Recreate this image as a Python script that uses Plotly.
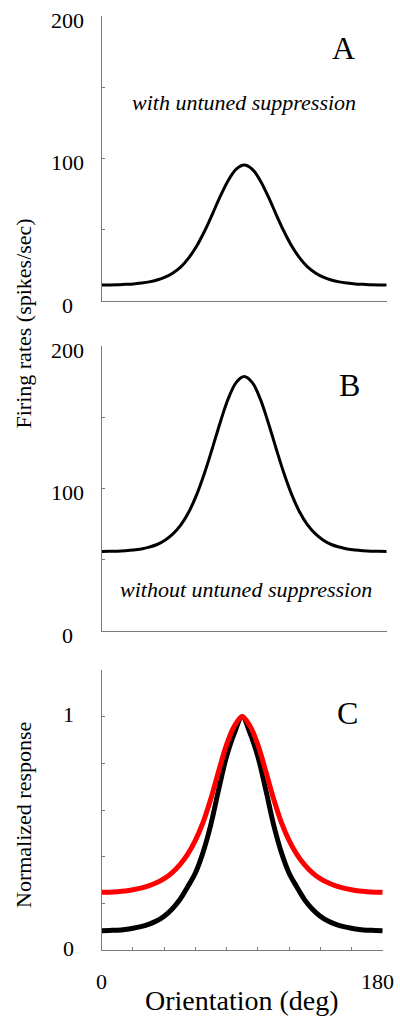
import plotly.graph_objects as go

# Orientation samples (deg)
orientation = [0, 5, 10, 15, 20, 25, 30, 35, 40, 45, 50, 55, 60, 65, 70, 75, 80, 85, 90,
               95, 100, 105, 110, 115, 120, 125, 130, 135, 140, 145, 150, 155, 160, 165, 170, 175, 180]

# Panel A: firing rate with untuned suppression (spikes/sec)
rate_with_suppression = [11.3, 11.3, 11.4, 11.7, 12.0, 12.6, 13.4, 14.7, 16.7, 19.7, 24.0, 30.3, 38.6,
                         49.1, 61.2, 73.7, 84.8, 92.6, 95.4, 92.6, 84.8, 73.7, 61.2, 49.1, 38.6, 30.3,
                         24.0, 19.7, 16.7, 14.7, 13.4, 12.6, 12.0, 11.7, 11.4, 11.3, 11.3]

# Panel B: firing rate without untuned suppression (spikes/sec)
rate_without_suppression = [55.8, 55.9, 56.0, 56.3, 56.8, 57.6, 58.9, 60.7, 63.7, 68.1, 74.4, 83.5, 95.7,
                            111.0, 128.6, 146.9, 163.2, 174.5, 178.6, 174.5, 163.2, 146.9, 128.6, 111.0,
                            95.7, 83.5, 74.4, 68.1, 63.7, 60.7, 58.9, 57.6, 56.8, 56.3, 56.0, 55.9, 55.8]

# Panel C: normalized responses
norm_black = [0.083, 0.084, 0.085, 0.088, 0.093, 0.100, 0.110, 0.124, 0.145, 0.175, 0.215, 0.27, 0.33,
              0.42, 0.54, 0.69, 0.83, 0.93, 1.0, 0.93, 0.83, 0.69, 0.54, 0.42, 0.33, 0.27, 0.215,
              0.175, 0.145, 0.124, 0.110, 0.100, 0.093, 0.088, 0.085, 0.084, 0.083]
norm_red = [0.247, 0.248, 0.25, 0.253, 0.258, 0.265, 0.275, 0.288, 0.306, 0.331, 0.365, 0.41, 0.47,
            0.548, 0.65, 0.768, 0.88, 0.96, 1.0, 0.96, 0.88, 0.768, 0.65, 0.548, 0.47, 0.41, 0.365,
            0.331, 0.306, 0.288, 0.275, 0.265, 0.258, 0.253, 0.25, 0.248, 0.247]

# Tick labels
rate_ticks = [0, 100, 200]
norm_ticks = [0, 1]
orient_ticks = [0, 180]

W, H = 400, 1018
FONT = "Liberation Serif, Times New Roman, serif"
AXIS_COLOR = "#7a7a7a"


def fx(p):
    return p / W


def fy(p):
    return 1 - p / H


fig = go.Figure()

fig.add_trace(go.Scatter(x=orientation, y=rate_with_suppression, mode="lines",
                         line=dict(color="black", width=3, shape="spline"),
                         xaxis="x", yaxis="y", showlegend=False))
fig.add_trace(go.Scatter(x=orientation, y=rate_without_suppression, mode="lines",
                         line=dict(color="black", width=3, shape="spline"),
                         xaxis="x2", yaxis="y2", showlegend=False))
fig.add_trace(go.Scatter(x=orientation, y=norm_black, mode="lines",
                         line=dict(color="black", width=5, shape="spline"),
                         xaxis="x3", yaxis="y3", showlegend=False))
fig.add_trace(go.Scatter(x=orientation, y=norm_red, mode="lines",
                         line=dict(color="#ff0000", width=5, shape="spline"),
                         xaxis="x3", yaxis="y3", showlegend=False))

base_x = dict(range=[0, 180], showline=True, linecolor=AXIS_COLOR, linewidth=1,
              showgrid=False, zeroline=False, showticklabels=False, fixedrange=True)
base_y = dict(showline=True, linecolor=AXIS_COLOR, linewidth=1, showgrid=False,
              zeroline=False, showticklabels=False, ticks="inside", ticklen=3,
              tickcolor=AXIS_COLOR, tickwidth=1, fixedrange=True)

layout = dict(
    width=W, height=H,
    margin=dict(l=0, r=0, t=0, b=0),
    paper_bgcolor="white", plot_bgcolor="white",
    font=dict(family=FONT, color="black"),
    xaxis=dict(base_x, domain=[fx(101.7), fx(386.7)], anchor="y", ticks=""),
    yaxis=dict(base_y, domain=[fy(301), fy(16)], anchor="x", range=[0, 200],
               tickvals=[0, 50, 100, 150, 200]),
    xaxis2=dict(base_x, domain=[fx(101.7), fx(386.7)], anchor="y2", ticks=""),
    yaxis2=dict(base_y, domain=[fy(631), fy(346)], anchor="x2", range=[0, 200],
                tickvals=[0, 50, 100, 150, 200]),
    xaxis3=dict(base_x, domain=[fx(101.7), fx(382.7)], anchor="y3", ticks="inside",
                ticklen=3, tickcolor=AXIS_COLOR, tickwidth=1,
                tickvals=list(range(0, 181, 20))),
    yaxis3=dict(base_y, domain=[fy(950), fy(670)], anchor="x3", range=[0, 1.2],
                tickvals=[0, 0.2, 0.4, 0.6, 0.8, 1.0]),
)

ann = []
# y tick labels, centred to the left of each axis
for v in rate_ticks:
    ann.append(dict(text=str(v), xref="paper", yref="y", x=fx(67), y=v, yshift=-4,
                    showarrow=False, xanchor="center", yanchor="middle",
                    font=dict(size=22)))
    ann.append(dict(text=str(v), xref="paper", yref="y2", x=fx(67), y=v, yshift=-4,
                    showarrow=False, xanchor="center", yanchor="middle",
                    font=dict(size=22)))
for v in norm_ticks:
    ann.append(dict(text=str(v), xref="paper", yref="y3", x=fx(68), y=v, yshift=2,
                    showarrow=False, xanchor="center", yanchor="middle",
                    font=dict(size=22)))
# x tick labels of the bottom panel
for v, shift in zip(orient_ticks, [0, -5]):
    ann.append(dict(text=str(v), xref="x3", yref="paper", x=v, y=fy(981), xshift=shift,
                    showarrow=False, xanchor="center", yanchor="middle",
                    font=dict(size=22)))

# Axis titles
ann.append(dict(text="Firing rates (spikes/sec)", xref="paper", yref="paper",
                x=fx(23), y=fy(323.5), textangle=-90, showarrow=False,
                xanchor="center", yanchor="middle", font=dict(size=22)))
ann.append(dict(text="Normalized response", xref="paper", yref="paper",
                x=fx(23), y=fy(815), textangle=-90, showarrow=False,
                xanchor="center", yanchor="middle", font=dict(size=22)))
ann.append(dict(text="Orientation (deg)", xref="paper", yref="paper",
                x=fx(241.5), y=fy(1000), showarrow=False,
                xanchor="center", yanchor="middle", font=dict(size=28)))

# Panel letters
for letter, (cx, cy) in zip(["A", "B", "C"], [(343, 48), (349.5, 385), (347.5, 713)]):
    ann.append(dict(text=letter, xref="paper", yref="paper", x=fx(cx), y=fy(cy),
                    showarrow=False, xanchor="center", yanchor="middle",
                    font=dict(size=32)))

# Condition labels
ann.append(dict(text="<i>with untuned suppression</i>", xref="paper", yref="paper",
                x=fx(243.5), y=fy(103), showarrow=False, xanchor="center",
                yanchor="middle", font=dict(size=22)))
ann.append(dict(text="<i>without untuned suppression</i>", xref="paper", yref="paper",
                x=fx(246), y=fy(589), showarrow=False, xanchor="center",
                yanchor="middle", font=dict(size=22)))

layout["annotations"] = ann
fig.update_layout(**layout)

fig.write_html("out.html")
